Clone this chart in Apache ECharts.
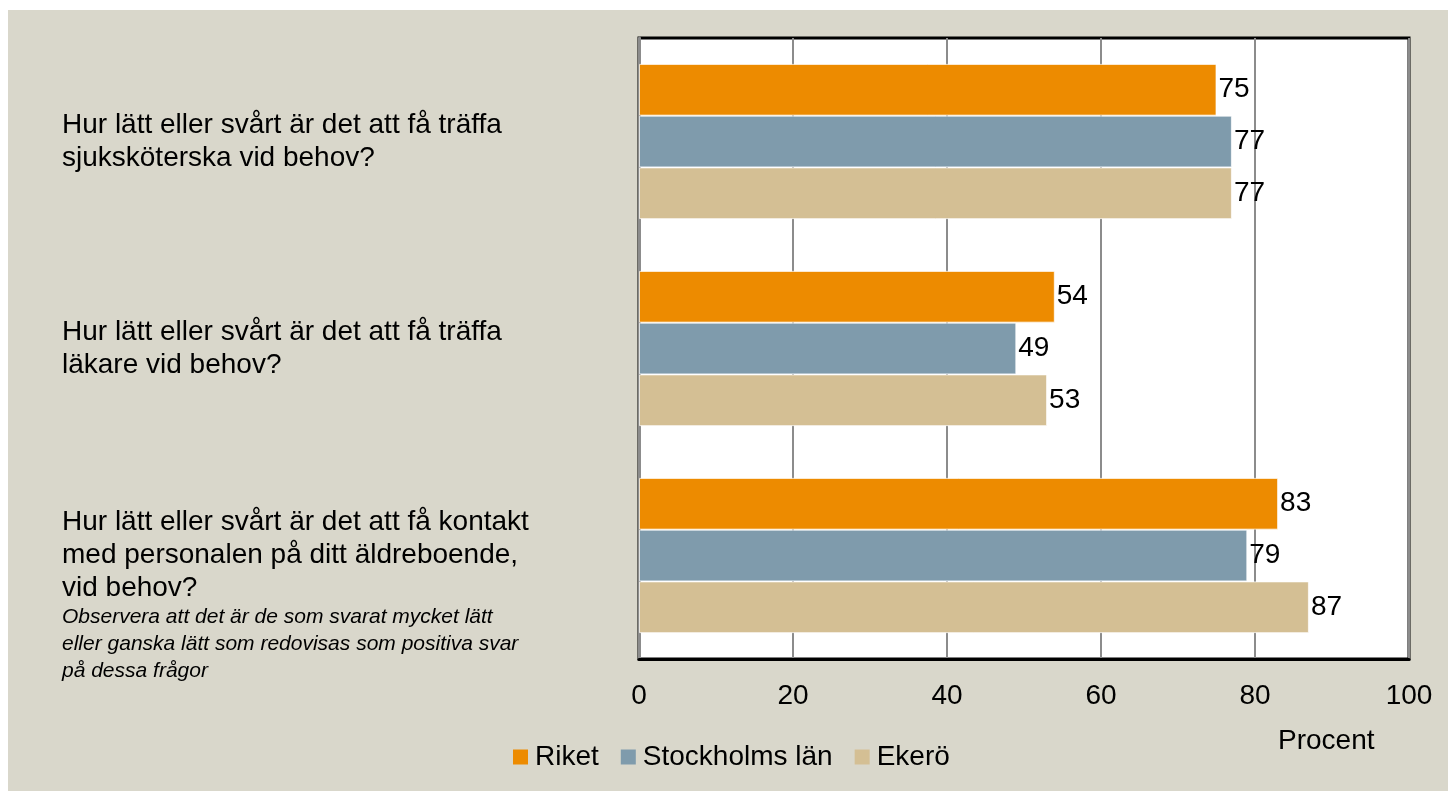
<!DOCTYPE html>
<html>
<head>
<meta charset="utf-8">
<script src="https://cdn.jsdelivr.net/npm/echarts@6/dist/echarts.min.js"></script>
<style>
  html, body { margin: 0; padding: 0; background: #ffffff; }
  #chart { position: absolute; left: 8px; top: 10px; width: 1440px; height: 781px; background: #d9d7cb; }
</style>
</head>
<body>
<div id="chart"></div>
<script>
const categories = [
    'Hur lätt eller svårt är det att få träffa\nsjuksköterska vid behov?',
    'Hur lätt eller svårt är det att få träffa\nläkare vid behov?',
    'Hur lätt eller svårt är det att få kontakt\nmed personalen på ditt äldreboende,\nvid behov?'
];
const seriesNames = ['Riket', 'Stockholms län', 'Ekerö'];
const riket = [75, 54, 83];
const stockholm = [77, 49, 79];
const ekero = [77, 53, 87];
const xTicks = [0, 20, 40, 60, 80, 100];
const noteText = 'Observera att det är de som svarat mycket lätt\neller ganska lätt som redovisas som positiva svar\npå dessa frågor';

(function () {
    const chart = echarts.init(document.getElementById('chart'));
    const font = '"Liberation Sans", Arial, sans-serif';
    const fs = 28;
    const colors = ['#ed8b00', '#7f9bac', '#d4bf94'];
    // category labels sit a bit above band centre (bottom padding = 2x shift)
    const labelShift = [0, 36, 18];

    const values = [riket, stockholm, ekero];
    const series = seriesNames.map((name, i) => ({
        name: name,
        type: 'bar',
        data: values[i],
        barGap: '0%',
        barCategoryGap: '25%',
        itemStyle: {
            color: colors[i],
            borderColor: 'rgba(255,255,255,0.7)',
            borderWidth: 1
        },
        label: {
            show: true,
            position: 'right',
            distance: 2,
            color: '#000',
            fontSize: fs,
            fontFamily: font
        },
        emphasis: { disabled: true }
    }));

    const option = {
        animation: false,
        textStyle: { fontFamily: font },
        grid: {
            left: 631,
            top: 28,
            right: 39,
            bottom: 132,
            outerBoundsMode: 'none',
            containLabel: false,
            show: true,
            backgroundColor: '#ffffff',
            borderColor: '#000000',
            borderWidth: 3
        },
        legend: {
            data: seriesNames,
            left: 505,
            top: 733,
            padding: 0,
            itemWidth: 15,
            itemHeight: 15,
            itemGap: 22,
            icon: 'rect',
            itemStyle: { borderWidth: 0 },
            textStyle: { fontSize: fs, color: '#000', fontFamily: font, padding: [0, 0, 0, 2] }
        },
        xAxis: {
            type: 'value',
            min: xTicks[0],
            max: xTicks[xTicks.length - 1],
            interval: 20,
            axisLine: { show: true, lineStyle: { color: '#000', width: 3 } },
            axisTick: { show: false },
            axisLabel: { fontSize: fs, color: '#000', margin: 23, fontFamily: font },
            splitLine: { show: true, lineStyle: { color: '#8c8c8c', width: 2 } }
        },
        yAxis: {
            type: 'category',
            inverse: true,
            data: categories.map((c, i) => ({
                value: c,
                textStyle: { align: 'left', padding: [0, 0, labelShift[i], 0] }
            })),
            axisLine: { show: true, lineStyle: { color: '#8c8c8c', width: 3 } },
            axisTick: { show: false },
            axisLabel: {
                align: 'left',
                margin: 577,
                fontSize: fs,
                lineHeight: 33,
                color: '#000',
                fontFamily: font
            }
        },
        series: series,
        graphic: [
            {
                type: 'text',
                left: 54,
                top: 594,
                style: {
                    text: noteText,
                    fontSize: 21,
                    lineHeight: 27,
                    fontStyle: 'italic',
                    fill: '#000',
                    fontFamily: font
                }
            },
            {
                type: 'text',
                left: 1270,
                top: 717,
                style: {
                    text: 'Procent',
                    fontSize: fs,
                    fill: '#000',
                    fontFamily: font
                }
            }
        ]
    };
    chart.setOption(option);
})();
</script>
</body>
</html>
